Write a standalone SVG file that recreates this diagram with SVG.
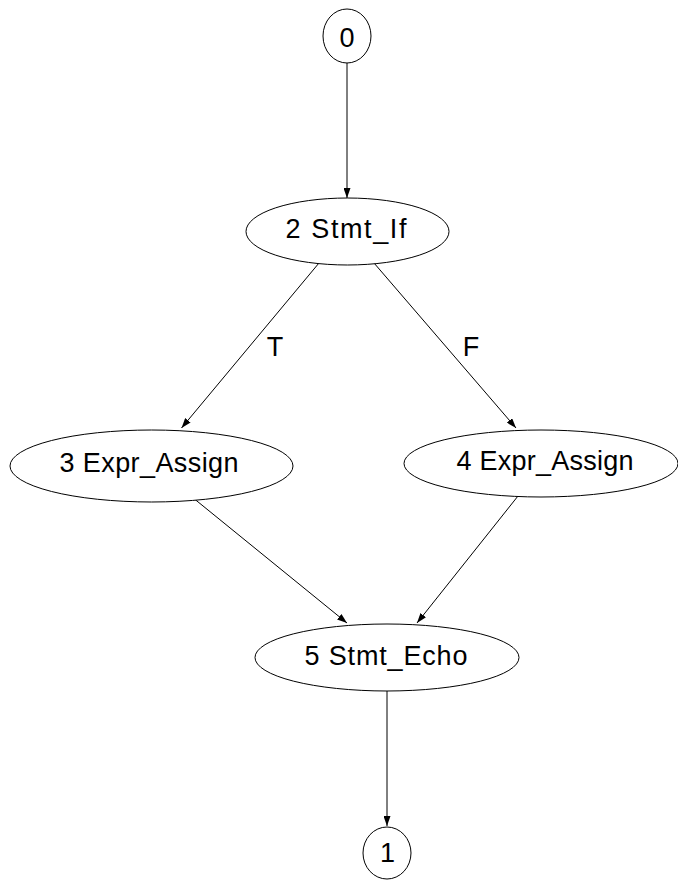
<svg xmlns="http://www.w3.org/2000/svg" width="678" height="880" viewBox="0 0 678 880">
  <style>
    .node ellipse { fill: #ffffff; stroke: #000000; stroke-width: 1; }
    .node text { font-family: "Liberation Sans", Arial, sans-serif; font-size: 27px; fill: #000000; text-anchor: middle; }
    .edge { fill: none; stroke: #000000; stroke-width: 1; marker-end: url(#arrow); }
    .elabel { font-family: "Liberation Sans", Arial, sans-serif; font-size: 27px; fill: #000000; text-anchor: middle; }
  </style>
  <defs>
    <marker id="arrow" markerUnits="userSpaceOnUse" markerWidth="10" markerHeight="7" refX="10" refY="3.5" orient="auto">
      <path d="M0,0 L10,3.5 L0,7 Z" fill="#000000"/>
    </marker>
  </defs>
  <rect width="678" height="880" fill="#ffffff"/>

  <!-- connectors -->
  <g id="edges">
    <path class="edge" d="M347,62 L347,198"/>
    <path class="edge" d="M319,263 L181.5,428"/>
    <text class="elabel" x="275" y="356">T</text>
    <path class="edge" d="M374,263 L516,428"/>
    <text class="elabel" x="471" y="356">F</text>
    <path class="edge" d="M192,497 L347,623"/>
    <path class="edge" d="M518,496 L417,623"/>
    <path class="edge" d="M387,691 L387,826"/>
  </g>

  <!-- nodes -->
  <g id="node0" class="node">
    <ellipse cx="347" cy="36" rx="24" ry="27"/>
    <text x="347" y="46.5">0</text>
  </g>
  <g id="node2" class="node">
    <ellipse cx="347.5" cy="231.5" rx="101.5" ry="33.5"/>
    <text x="346" y="238" textLength="121" lengthAdjust="spacing">2 Stmt_If</text>
  </g>
  <g id="node3" class="node">
    <ellipse cx="151.5" cy="466" rx="141.5" ry="36"/>
    <text x="149" y="471.5" textLength="179" lengthAdjust="spacing">3 Expr_Assign</text>
  </g>
  <g id="node4" class="node">
    <ellipse cx="541" cy="463.5" rx="137" ry="33.5"/>
    <text x="545" y="470" textLength="177" lengthAdjust="spacing">4 Expr_Assign</text>
  </g>
  <g id="node5" class="node">
    <ellipse cx="387" cy="657.5" rx="132" ry="33.5"/>
    <text x="386" y="665" textLength="163" lengthAdjust="spacing">5 Stmt_Echo</text>
  </g>
  <g id="node1" class="node">
    <ellipse cx="387" cy="853" rx="24" ry="26"/>
    <text x="387.5" y="861.5">1</text>
  </g>
</svg>
